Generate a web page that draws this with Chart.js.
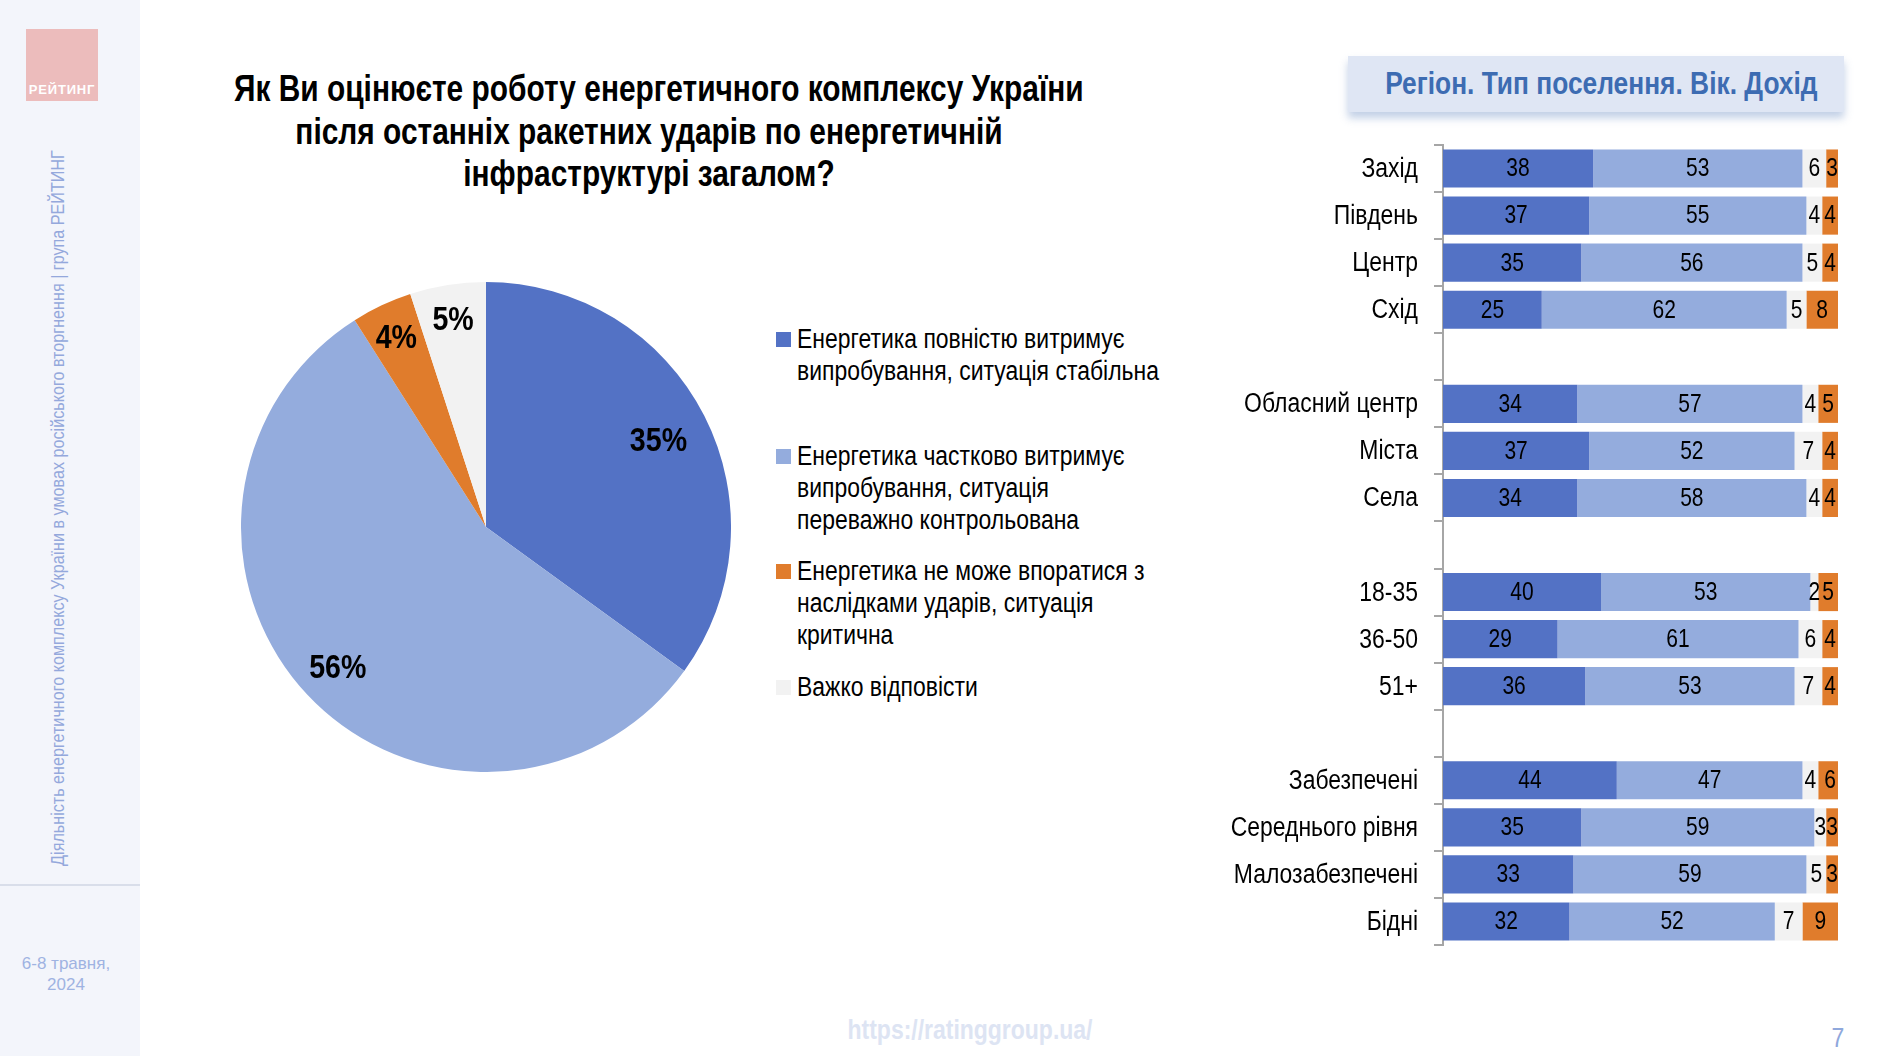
<!DOCTYPE html>
<html>
<head>
<meta charset="utf-8">
<script src="https://cdn.jsdelivr.net/npm/chart.js@4.4.1/dist/chart.umd.min.js"></script>
<style>
  html, body { margin: 0; padding: 0; background: #fff; }
  body { width: 1880px; height: 1056px; position: relative; overflow: hidden;
         font-family: 'Liberation Sans', Arial, sans-serif; }
  .abs { position: absolute; }
  #side { left: 0; top: 0; width: 140px; height: 1056px; background: #f3f5fb; }
  #logo { left: 26px; top: 29px; width: 72px; height: 72px; background: #ecbcbc; }
  #logo span { position: absolute; left: 0; right: 0; bottom: 4px; text-align: center; color: #fff;
               font: bold 13px 'Liberation Sans', Arial, sans-serif; letter-spacing: 0.8px; }
  #vtext { left: 58px; top: 508px; width: 1000px; margin-left: -500px; text-align: center;
           transform: rotate(-90deg) scaleX(0.85); color: #94a8dc; font-size: 19px; white-space: nowrap;
           line-height: 20px; margin-top: -10px; }
  #sep { left: 0; top: 884px; width: 140px; height: 2px; background: #d9deea; }
  #date { left: 0; top: 953px; width: 132px; text-align: center; color: #9fb3e2;
          font-size: 17px; line-height: 21px; }
  #title { left: 149px; top: 68px; width: 1000px; text-align: center; font-weight: bold;
           font-size: 36px; line-height: 42.5px; color: #000; }
  #title div { transform: scaleX(0.83); white-space: nowrap; }
  #hdr { left: 1348px; top: 56px; width: 496px; height: 56px; background: #dfe6f4;
         box-shadow: 0 6px 8px rgba(120,150,200,0.45); text-align: center; line-height: 56px;
         color: #3d6cb2; font-weight: bold; font-size: 31px; white-space: nowrap; }
  #hdr div { transform: scaleX(0.85); }
  .leg { left: 776px; width: 480px; font-size: 27px; line-height: 32px; color: #000; white-space: nowrap; }
  .leg i { position: absolute; left: 0; top: 9px; width: 15px; height: 15px; }
  .leg div { margin-left: 21px; transform: scaleX(0.85); transform-origin: 0 0; }
  #url { left: 720px; top: 1014px; width: 500px; text-align: center; color: #dde4f3;
         font-weight: bold; font-size: 28px; }
  #url div { transform: scaleX(0.82); }
  #pnum { left: 1820px; top: 1022px; width: 36px; text-align: center; color: #8fa8dc; font-size: 28px; }
  #pnum div { transform: scaleX(0.82); }
  #pieBox { left: 241px; top: 282px; width: 490px; height: 490px; }
  #barBox { left: 1180px; top: 135px; width: 680px; height: 820px; }
</style>
</head>
<body>
<div id="side" class="abs"></div>
<div id="logo" class="abs"><span>РЕЙТИНГ</span></div>
<div id="vtext" class="abs">Діяльність енергетичного комплексу України в умовах російського вторгнення | група РЕЙТИНГ</div>
<div id="sep" class="abs"></div>
<div id="date" class="abs">6-8 травня,<br>2024</div>

<div id="title" class="abs">
  <div>Як Ви оцінюєте роботу енергетичного комплексу України</div>
  <div>після останніх ракетних ударів по енергетичній</div>
  <div>інфраструктурі загалом?</div>
</div>
<div id="hdr" class="abs"><div>Регіон. Тип поселення. Вік. Дохід</div></div>

<div id="pieBox" class="abs"><canvas id="pieChart"></canvas></div>
<div id="legend"></div>
<div id="barBox" class="abs"><canvas id="barChart"></canvas></div>

<div id="url" class="abs"><div>https://ratinggroup.ua/</div></div>
<div id="pnum" class="abs"><div>7</div></div>

<script>
// --- data ---
const answers = [
  'Енергетика повністю витримує випробування, ситуація стабільна',
  'Енергетика частково витримує випробування, ситуація переважно контрольована',
  'Енергетика не може впоратися з наслідками ударів, ситуація критична',
  'Важко відповісти'
];
const pieValues = [35, 56, 4, 5];

const groups = ['Захід', 'Південь', 'Центр', 'Схід', '',
  'Обласний центр', 'Міста', 'Села', '',
  '18-35', '36-50', '51+', '',
  'Забезпечені', 'Середнього рівня', 'Малозабезпечені', 'Бідні'];
const stable   = [38, 37, 35, 25, null, 34, 37, 34, null, 40, 29, 36, null, 44, 35, 33, 32];
const partial  = [53, 55, 56, 62, null, 57, 52, 58, null, 53, 61, 53, null, 47, 59, 59, 52];
const hard     = [6, 4, 5, 5, null, 4, 7, 4, null, 2, 6, 7, null, 4, 3, 5, 7];
const critical = [3, 4, 4, 8, null, 5, 4, 4, null, 5, 4, 4, null, 6, 3, 3, 9];

// legend lines (as laid out in the slide)
const legendLines = [
  ['Енергетика повністю витримує', 'випробування, ситуація стабільна'],
  ['Енергетика частково витримує', 'випробування, ситуація', 'переважно контрольована'],
  ['Енергетика не може впоратися з', 'наслідками ударів, ситуація', 'критична'],
  ['Важко відповісти']
];

const colors = ['#5372c5', '#94acdd', '#e07c2c', '#f2f2f2'];
const FONT = "'Liberation Sans', Arial, sans-serif";

// html legend
const legTops = [323, 440, 555, 671];
const legEl = document.getElementById('legend');
legendLines.forEach((lines, i) => {
  const d = document.createElement('div');
  d.className = 'abs leg';
  d.style.top = legTops[i] + 'px';
  d.innerHTML = '<i style="background:' + colors[i] + '"></i><div>' + lines.join('<br>') + '</div>';
  legEl.appendChild(d);
});

// text squeezed horizontally, like Arial Narrow
function narrowText(ctx, text, x, y, k) {
  ctx.save();
  ctx.translate(x, y);
  ctx.scale(k, 1);
  ctx.fillText(text, 0, 0);
  ctx.restore();
}

// labels inside pie slices
const pieLabelRadius = [0.79, 0.83, 0.86, 0.86];
const pieLabels = {
  id: 'pieLabels',
  afterDatasetsDraw(chart) {
    const ctx = chart.ctx;
    const meta = chart.getDatasetMeta(0);
    ctx.save();
    ctx.font = 'bold 34px ' + FONT;
    ctx.fillStyle = '#000';
    ctx.textAlign = 'center';
    ctx.textBaseline = 'middle';
    meta.data.forEach((arc, i) => {
      const p = arc.getProps(['x', 'y', 'startAngle', 'endAngle', 'outerRadius']);
      const mid = (p.startAngle + p.endAngle) / 2;
      const r = p.outerRadius * pieLabelRadius[i];
      narrowText(ctx, pieValues[i] + '%', p.x + Math.cos(mid) * r, p.y + Math.sin(mid) * r + 2, 0.84);
    });
    ctx.restore();
  }
};

new Chart(document.getElementById('pieChart'), {
  type: 'pie',
  data: {
    labels: answers,
    datasets: [{ data: pieValues, backgroundColor: colors, borderWidth: 0 }]
  },
  options: {
    responsive: true,
    maintainAspectRatio: false,
    animation: false,
    plugins: { legend: { display: false }, tooltip: { enabled: false } }
  },
  plugins: [pieLabels]
});

// numbers inside bar segments + category names beside the y axis
const barLabels = {
  id: 'barLabels',
  afterDatasetsDraw(chart) {
    const ctx = chart.ctx;
    ctx.save();
    ctx.font = '25px ' + FONT;
    ctx.fillStyle = '#000';
    ctx.textAlign = 'center';
    ctx.textBaseline = 'middle';
    chart.data.datasets.forEach((ds, di) => {
      const meta = chart.getDatasetMeta(di);
      meta.data.forEach((bar, i) => {
        const v = ds.data[i];
        if (v === null || v === undefined) return;
        const p = bar.getProps(['x', 'y', 'base']);
        narrowText(ctx, String(v), (p.x + p.base) / 2, p.y + 1, 0.84);
      });
    });
    const y = chart.scales.y;
    ctx.font = '27px ' + FONT;
    ctx.textAlign = 'right';
    y.ticks.forEach((t, i) => {
      narrowText(ctx, chart.data.labels[i], y.right - 25, y.getPixelForTick(i) + 1, 0.85);
    });
    ctx.restore();
  }
};

const series = [stable, partial, hard, critical];
const seriesColor = [colors[0], colors[1], colors[3], colors[2]];
const seriesName = [answers[0], answers[1], answers[3], answers[2]];

new Chart(document.getElementById('barChart'), {
  type: 'bar',
  data: {
    labels: groups,
    datasets: series.map((d, i) => ({
      label: seriesName[i],
      data: d,
      backgroundColor: seriesColor[i],
      borderWidth: 0,
      barPercentage: 0.81,
      categoryPercentage: 1
    }))
  },
  options: {
    indexAxis: 'y',
    responsive: true,
    maintainAspectRatio: false,
    animation: false,
    layout: { padding: { top: 10, bottom: 10, right: 22, left: 0 } },
    scales: {
      x: { stacked: true, min: 0, max: 100, display: false },
      y: {
        stacked: true,
        afterFit(scale) { scale.width = 263; },
        grid: { display: true, drawOnChartArea: false, drawTicks: true, tickLength: 9,
                color: '#a6a6a6', lineWidth: 2, offset: true },
        border: { display: true, color: '#a6a6a6', width: 2 },
        ticks: { display: false, autoSkip: false }
      }
    },
    plugins: { legend: { display: false }, tooltip: { enabled: false } }
  },
  plugins: [barLabels]
});
</script>
</body>
</html>
